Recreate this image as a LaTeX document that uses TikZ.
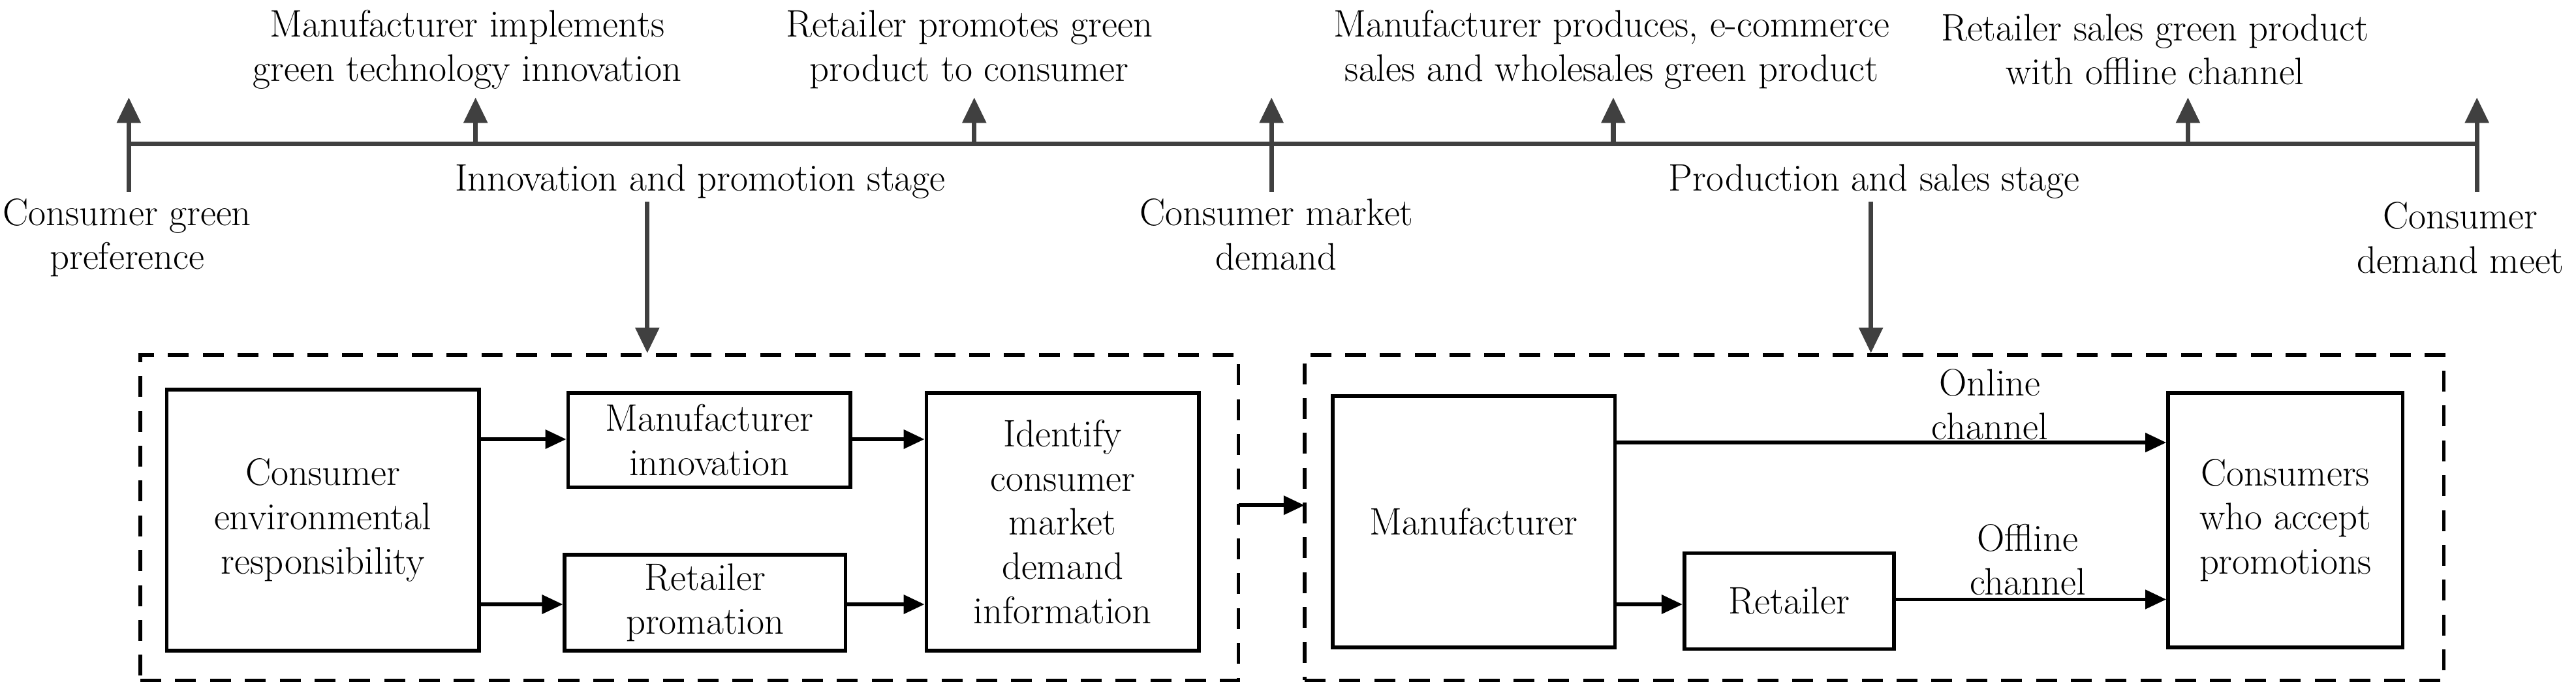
\documentclass[tikz,border=0pt]{standalone}
\usepackage{tikz}
\usetikzlibrary{arrows.meta}
\usetikzlibrary{positioning}
\definecolor{lineGray}{RGB}{64,64,64}
\tikzset{
  txt/.style={align=center, font=\fontsize{16.5}{19}\selectfont, inner sep=1pt},
  blk/.style={draw, line width=1.6pt, align=center, font=\fontsize{16.5}{19}\selectfont, inner sep=0pt},
  stage/.style={draw, line width=1.6pt, dash pattern=on 9pt off 6pt},
  up/.style={-{Triangle[length=11pt,width=10pt]}, lineGray, line width=2pt},
  flow/.style={-{Triangle[length=9pt,width=8pt]}, line width=1.6pt}
}
\begin{document}
\begin{tikzpicture}[x=0.025cm, y=-0.025cm]
  \useasboundingbox (0,0) rectangle (1560,422);

  % time line
  \coordinate (t0) at (78,87);
  \coordinate (t1) at (1500,87);
  \draw[lineGray, line width=2pt] (t0) -- (t1);
  \foreach \x in {288, 590, 977, 1325}
    \draw[up] (\x,87) -- (\x,59);
  \foreach \x in {78, 770, 1500}
    \draw[up] (\x,116) -- (\x,59);

  \node[txt] (tA) at (283,30) {Manufacturer implements\\green technology innovation};
  \node[txt] (tB) at (587,30) {Retailer promotes green\\product to consumer};
  \node[txt] (tC) at (976,30) {Manufacturer produces, e-commerce\\sales and wholesales green product};
  \node[txt] (tD) at (1305,30) {Retailer sales green product\\with offline channel};

  \node[txt] (sIP) at (424,110) {Innovation and promotion stage};
  \node[txt] (sPS) at (1135,110) {Production and sales stage};
  \node[txt] (bA) at (77,144) {Consumer green\\preference};
  \node[txt] (bB) at (773,142) {Consumer market\\demand};
  \node[txt] (bC) at (1490,144) {Consumer\\demand meet};

  % stages
  \node[stage, minimum width=665*0.025cm, minimum height=197*0.025cm] (left) at (417.5,313.5) {};
  \node[stage, minimum width=690*0.025cm, minimum height=197*0.025cm] (right) at (1135,313.5) {};
  \draw[up] (392,122) -- (left.north -| 392,0);
  \draw[up] (1133,122) -- (right.north -| 1133,0);

  % innovation and promotion
  \node[blk, minimum width=189*0.025cm, minimum height=158*0.025cm] (cer) at (195.5,315) {Consumer\\environmental\\responsibility};
  \node[blk, minimum width=171*0.025cm, minimum height=57*0.025cm] (mi) at (429.5,266.5) {Manufacturer\\innovation};
  \node[blk, minimum width=170*0.025cm, minimum height=58*0.025cm] (rp) at (427,365) {Retailer\\promation};
  \node[blk, minimum width=165*0.025cm, minimum height=156*0.025cm] (idf) at (643.5,316) {Identify\\consumer\\market\\demand\\information};
  \draw[flow] (cer.east |- 0,266) -- (mi.west |- 0,266);
  \draw[flow] (cer.east |- 0,366) -- (rp.west |- 0,366);
  \draw[flow] (mi.east |- 0,266) -- (idf.west |- 0,266);
  \draw[flow] (rp.east |- 0,366) -- (idf.west |- 0,366);

  \coordinate (lOut) at (750,306);
  \coordinate (rIn) at (790,306);
  \draw[flow] (lOut) -- (rIn);

  % production and sales
  \node[blk, minimum width=171*0.025cm, minimum height=152*0.025cm] (man) at (892.5,316) {Manufacturer};
  \node[blk, minimum width=127*0.025cm, minimum height=58*0.025cm] (ret) at (1083.5,364) {Retailer};
  \node[blk, minimum width=142*0.025cm, minimum height=154*0.025cm] (con) at (1384,315) {Consumers\\who accept\\promotions};
  \draw[flow] (man.east |- 0,268) -- (con.west |- 0,268);
  \draw[flow] (man.east |- 0,366) -- (ret.west |- 0,366);
  \draw[flow] (ret.east |- 0,363) -- (con.west |- 0,363);
  \node[txt] (on) at (1205,245) {Online\\channel};
  \node[txt] (off) at (1228,339) {Offline\\channel};
\end{tikzpicture}
\end{document}
